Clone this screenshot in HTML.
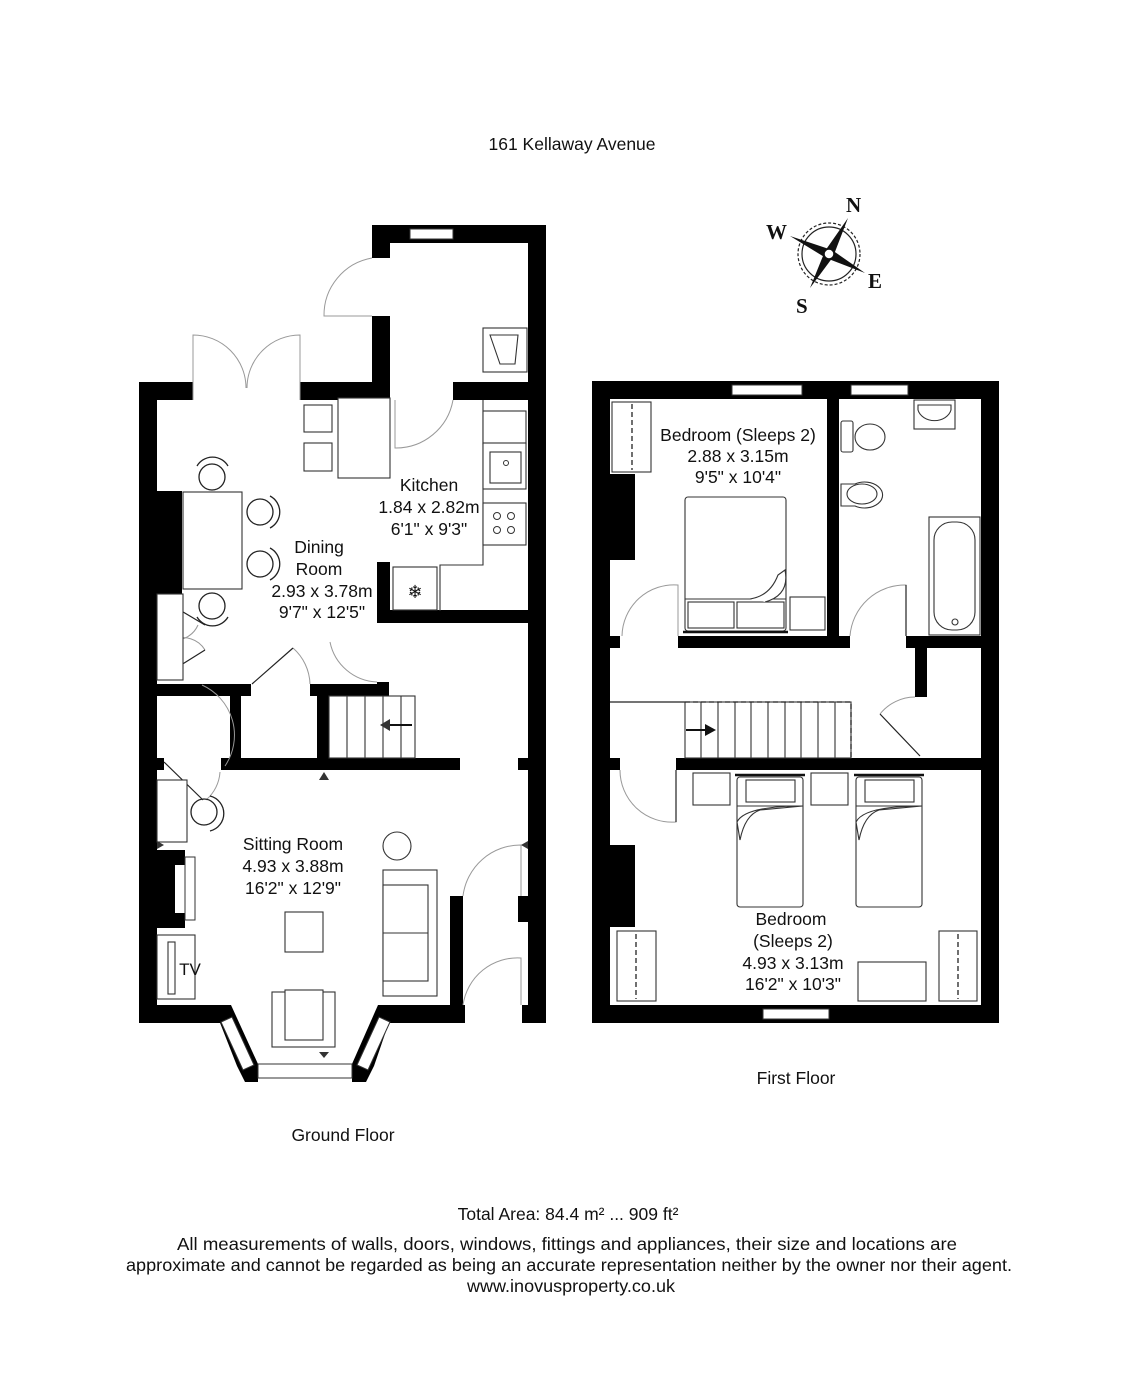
<!DOCTYPE html>
<html><head><meta charset="utf-8"><style>
html,body{margin:0;padding:0;background:#fff}
svg{display:block}
text{font-family:"Liberation Sans",Arial,sans-serif;fill:#111}
</style></head><body>
<svg width="1138" height="1400" viewBox="0 0 1138 1400" xmlns="http://www.w3.org/2000/svg">
<rect width="1138" height="1400" fill="#fff"/>
<text x="572" y="150" font-size="17.5" text-anchor="middle">161 Kellaway Avenue</text>

<!-- Compass -->
<g>
<circle cx="829" cy="254" r="31" fill="none" stroke="#222" stroke-width="1.2" stroke-dasharray="3,2"/>
<circle cx="829" cy="254" r="27" fill="none" stroke="#222" stroke-width="1.2"/>
<polygon points="848,218 833,257 825,251" fill="#111"/>
<polygon points="810,288 825,251 833,257" fill="#111"/>
<polygon points="790,236 832,250 826,258" fill="#111"/>
<polygon points="865,273 826,258 832,250" fill="#111"/>
<circle cx="829" cy="254" r="5" fill="#fff" stroke="#111" stroke-width="1.5"/>
<g font-weight="bold" font-size="21">
<text x="846" y="212" style="font-family:'Liberation Serif',serif">N</text>
<text x="766" y="239" style="font-family:'Liberation Serif',serif">W</text>
<text x="868" y="288" style="font-family:'Liberation Serif',serif">E</text>
<text x="796" y="313" style="font-family:'Liberation Serif',serif">S</text>
</g>
</g>

<!-- ============ GROUND FLOOR ============ -->
<g fill="#000">
<rect x="139" y="382" width="18" height="641"/>
<rect x="139" y="382" width="54" height="18"/>
<rect x="300" y="382" width="90" height="18"/>
<rect x="372" y="225" width="18" height="33"/>
<rect x="372" y="316" width="18" height="84"/>
<rect x="377" y="400" width="13" height="38"/>
<rect x="372" y="225" width="174" height="18"/>
<rect x="528" y="225" width="18" height="798"/>
<rect x="453" y="382" width="93" height="18"/>
<rect x="377" y="562" width="13" height="60"/>
<rect x="377" y="610" width="151" height="13"/>
<rect x="157" y="684" width="94" height="12"/>
<rect x="310" y="684" width="79" height="12"/>
<rect x="377" y="682" width="12" height="14"/>
<rect x="230" y="696" width="11" height="62"/>
<rect x="317" y="696" width="12" height="62"/>
<rect x="221" y="758" width="239" height="12"/>
<rect x="157" y="758" width="7" height="12"/>
<rect x="518" y="758" width="10" height="12"/>
<rect x="450" y="896" width="13" height="127"/>
<rect x="518" y="896" width="10" height="26"/>
<rect x="522" y="1005" width="24" height="18"/>
<rect x="139" y="1005" width="86" height="18"/>
<rect x="378" y="1005" width="87" height="18"/>
<polygon points="213,1005 231,1005 258,1064 258,1082 245,1082 237,1066"/>
<polygon points="395,1005 378,1005 352,1064 352,1082 366,1082 374,1066"/>
<rect x="157" y="491" width="25" height="103"/>
<rect x="157" y="850" width="28" height="78"/>
</g>
<g fill="#fff" stroke="#333" stroke-width="1">
<rect x="410" y="229" width="43" height="10"/>
<rect x="258" y="1064" width="94" height="14"/>
<polygon points="221,1022 232,1017 254,1065 243,1070"/>
<polygon points="390,1022 379,1017 357,1065 368,1070"/>
<rect x="175" y="865" width="10" height="48" stroke="none"/>
<rect x="185" y="857" width="10" height="63"/>
</g>
<g fill="none" stroke="#999" stroke-width="1">
<path d="M193,400 L193,335 A53,53 0 0 1 246,388"/>
<path d="M300,400 L300,335 A53,53 0 0 0 247,388"/>
<path d="M372,258 A58,58 0 0 0 324,316 L372,316"/>
<path d="M395,400 L395,448 A58,58 0 0 0 453,400"/>
<path d="M330,642 A50,50 0 0 0 377,682"/>
<path d="M293,648 A50,50 0 0 1 310,684"/>
<path d="M202,685 A55,55 0 0 1 225,766 M206,800 A40,40 0 0 0 220,772"/>
<path d="M463,896 A58,58 0 0 1 521,845 L521,896"/>
<path d="M463,1005 A55,55 0 0 1 521,958 L521,1005"/>
<path d="M173,640 A25,25 0 0 1 205,650 M173,640 A25,25 0 0 0 198,625"/>
</g>
<g fill="none" stroke="#222" stroke-width="1.2">
<line x1="252" y1="684" x2="293" y2="648"/>
<line x1="164" y1="762" x2="203" y2="800"/>
<line x1="173" y1="670" x2="205" y2="650"/>
<line x1="173" y1="606" x2="205" y2="625"/>
</g>
<g fill="#fff" stroke="#333" stroke-width="1.1">
<rect x="183" y="492" width="59" height="97"/>
<rect x="157" y="594" width="26" height="86"/>
<rect x="304" y="405" width="28" height="27"/>
<rect x="304" y="443" width="28" height="28"/>
<rect x="338" y="398" width="52" height="80"/>
<path d="M483,400 V565 H440 V611" fill="none"/>
<rect x="483" y="411" width="43" height="33"/>
<rect x="483" y="443" width="43" height="46"/>
<rect x="490" y="452" width="31" height="31"/>
<rect x="483" y="503" width="43" height="42"/>
<rect x="393" y="567" width="44" height="43"/>
<rect x="483" y="328" width="44" height="44"/>
<path d="M490,335 L500,364 L515,364 L518,335 Z"/>
<rect x="329" y="696" width="86" height="62"/>
<path d="M347,696V758M365,696V758M383,696V758M401,696V758"/>
<circle cx="397" cy="846" r="14"/>
<rect x="383" y="870" width="54" height="126"/>
<rect x="383" y="885" width="45" height="96"/>
<line x1="383" y1="933" x2="428" y2="933"/>
<rect x="285" y="912" width="38" height="40"/>
<rect x="272" y="992" width="63" height="55"/>
<rect x="285" y="990" width="38" height="50"/>
<rect x="157" y="935" width="38" height="64"/>
<rect x="168" y="942" width="7" height="52"/>
<rect x="157" y="780" width="30" height="62"/>
</g>
<g fill="none" stroke="#222" stroke-width="1.3">
<circle cx="212" cy="477" r="13"/><path d="M197,466 A18,18 0 0 1 228,466"/>
<circle cx="260" cy="512" r="13"/><path d="M270,496 A18,18 0 0 1 270,528"/>
<circle cx="260" cy="564" r="13"/><path d="M270,548 A18,18 0 0 1 270,580"/>
<circle cx="212" cy="606" r="13"/><path d="M197,617 A18,18 0 0 0 228,617"/>
<circle cx="204" cy="812" r="13"/><path d="M210,796 A18,18 0 0 1 210,831"/>
</g>
<g fill="#333">
<circle cx="497" cy="516" r="3.5" fill="none" stroke="#333"/><circle cx="511" cy="516" r="3.5" fill="none" stroke="#333"/>
<circle cx="497" cy="530" r="3.5" fill="none" stroke="#333"/><circle cx="511" cy="530" r="3.5" fill="none" stroke="#333"/>
<circle cx="506" cy="463" r="2.5" fill="none" stroke="#333"/>
<line x1="382" y1="725" x2="412" y2="725" stroke="#111" stroke-width="2"/>
<polygon points="380,725 390,719 390,731"/>
<polygon points="324,772 319,780 329,780"/>
<polygon points="324,1058 319,1052 329,1052"/>
<polygon points="164,845 157,841 157,849"/>
<polygon points="521,845 528,841 528,849"/>
</g>
<text x="415" y="598" font-size="18" text-anchor="middle">❄</text>
<text x="190" y="975" font-size="17" text-anchor="middle">TV</text>

<g font-size="17.5" text-anchor="middle">
<text x="429" y="491">Kitchen</text>
<text x="429" y="513">1.84 x 2.82m</text>
<text x="429" y="535">6'1" x 9'3"</text>
<text x="319" y="553">Dining</text>
<text x="319" y="575">Room</text>
<text x="322" y="597">2.93 x 3.78m</text>
<text x="322" y="618">9'7" x 12'5"</text>
<text x="293" y="850">Sitting Room</text>
<text x="293" y="872">4.93 x 3.88m</text>
<text x="293" y="894">16'2" x 12'9"</text>
<text x="343" y="1141">Ground Floor</text>
</g>

<!-- ============ FIRST FLOOR ============ -->
<g fill="#000">
<rect x="592" y="381" width="407" height="18"/>
<rect x="592" y="1005" width="407" height="18"/>
<rect x="592" y="381" width="18" height="642"/>
<rect x="981" y="381" width="18" height="642"/>
<rect x="827" y="399" width="12" height="249"/>
<rect x="678" y="636" width="172" height="12"/>
<rect x="610" y="636" width="10" height="12"/>
<rect x="906" y="636" width="75" height="12"/>
<rect x="915" y="648" width="12" height="49"/>
<rect x="676" y="758" width="305" height="12"/>
<rect x="610" y="758" width="10" height="12"/>
<rect x="610" y="474" width="25" height="86"/>
<rect x="610" y="845" width="25" height="82"/>
</g>
<g fill="#fff" stroke="#333" stroke-width="1">
<rect x="732" y="385" width="70" height="10"/>
<rect x="851" y="385" width="57" height="10"/>
<rect x="763" y="1009" width="66" height="10"/>
</g>
<g fill="none" stroke="#999" stroke-width="1">
<path d="M678,636 V585 A52,52 0 0 0 622,636"/>
<path d="M906,636 V585 A55,55 0 0 0 850,636"/>
<path d="M676,770 V822 A52,52 0 0 1 620,770"/>
<path d="M880,714 A45,45 0 0 1 915,697"/>
</g>
<g fill="none" stroke="#222" stroke-width="1.2">
<line x1="880" y1="714" x2="920" y2="756"/>
<line x1="906" y1="585" x2="906" y2="636"/>
<line x1="676" y1="770" x2="676" y2="822"/>
<line x1="610" y1="702" x2="685" y2="702"/>
</g>
<g fill="#fff" stroke="#333" stroke-width="1.1">
<rect x="685" y="702" width="166" height="56"/>
<path d="M701,702V758M718,702V758M735,702V758M751,702V758M768,702V758M785,702V758M801,702V758M818,702V758M835,702V758"/>
<rect x="612" y="402" width="39" height="70"/>
<rect x="617" y="931" width="39" height="70"/>
<rect x="939" y="931" width="38" height="70"/>
<rect x="858" y="962" width="68" height="39"/>
<rect x="685" y="497" width="101" height="134" rx="3"/>
<line x1="685" y1="599" x2="786" y2="599"/>
<rect x="688" y="602" width="46" height="26"/>
<rect x="737" y="602" width="47" height="26"/>
<path d="M750,599 Q770,596 778,575 L785,570 Q790,595 765,602" />
<rect x="790" y="597" width="35" height="33"/>
<rect x="737" y="777" width="66" height="130" rx="3"/>
<rect x="746" y="780" width="49" height="22"/>
<line x1="737" y1="806" x2="803" y2="806"/>
<path d="M737,822 Q745,806 803,806 L760,810 Q745,815 740,840 Z"/>
<rect x="856" y="777" width="66" height="130" rx="3"/>
<rect x="865" y="780" width="49" height="22"/>
<line x1="856" y1="806" x2="922" y2="806"/>
<path d="M856,822 Q864,806 922,806 L879,810 Q864,815 859,840 Z"/>
<rect x="693" y="773" width="37" height="32"/>
<rect x="811" y="773" width="37" height="32"/>
<rect x="929" y="517" width="51" height="118"/>
<rect x="934" y="522" width="41" height="108" rx="18"/>
<circle cx="955" cy="622" r="3"/>
<rect x="914" y="400" width="41" height="29"/>
<path d="M918,405 H951 V410 A17,14 0 0 1 918,410 Z"/>
<rect x="841" y="421" width="12" height="31" rx="2"/>
<ellipse cx="870" cy="437" rx="15" ry="13"/>
<path d="M841,484 H855 A18,13 0 1 1 855,506 H841 Z"/>
<ellipse cx="862" cy="494" rx="15" ry="10"/>
</g>
<g stroke="#222" stroke-width="1.3" stroke-dasharray="5,3" fill="none">
<line x1="632" y1="404" x2="632" y2="470"/>
<line x1="636" y1="934" x2="636" y2="999"/>
<line x1="958" y1="934" x2="958" y2="999"/>
<path d="M685,702 H851 V758"/>
</g>
<g stroke="#111" stroke-width="2.5">
<line x1="683" y1="632" x2="788" y2="632"/>
<line x1="735" y1="775" x2="805" y2="775"/>
<line x1="854" y1="775" x2="924" y2="775"/>
</g>
<line x1="686" y1="730" x2="706" y2="730" stroke="#111" stroke-width="2"/>
<polygon points="716,730 705,724 705,736" fill="#111"/>

<g font-size="17.5" text-anchor="middle">
<text x="738" y="441">Bedroom (Sleeps 2)</text>
<text x="738" y="462">2.88 x 3.15m</text>
<text x="738" y="483">9'5" x 10'4"</text>
<text x="791" y="925">Bedroom</text>
<text x="793" y="947">(Sleeps 2)</text>
<text x="793" y="969">4.93 x 3.13m</text>
<text x="793" y="990">16'2" x 10'3"</text>
<text x="796" y="1084">First Floor</text>
</g>

<g font-size="17.5" text-anchor="middle">
<text x="568" y="1220">Total Area: 84.4 m² ... 909 ft²</text>
<text x="567" y="1250" textLength="780" lengthAdjust="spacingAndGlyphs">All measurements of walls, doors, windows, fittings and appliances, their size and locations are</text>
<text x="569" y="1271" textLength="886" lengthAdjust="spacingAndGlyphs">approximate and cannot be regarded as being an accurate representation neither by the owner nor their agent.</text>
<text x="571" y="1292" textLength="208" lengthAdjust="spacingAndGlyphs">www.inovusproperty.co.uk</text>
</g>
</svg>
</body></html>
